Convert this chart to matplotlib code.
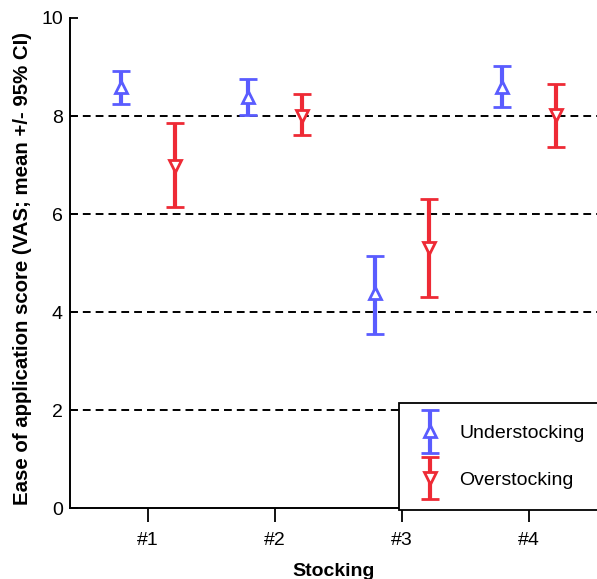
import matplotlib.pyplot as plt
from matplotlib.container import ErrorbarContainer
from matplotlib.legend_handler import HandlerErrorbar

plt.rcParams['font.family'] = ['Liberation Sans', 'DejaVu Sans']

stockings = ["#1", "#2", "#3", "#4"]
under_mean = [8.59, 8.39, 4.40, 8.60]
under_low = [8.25, 8.02, 3.56, 8.19]
under_high = [8.92, 8.76, 5.15, 9.02]
over_mean = [6.99, 8.00, 5.30, 8.02]
over_low = [6.15, 7.62, 4.30, 7.37]
over_high = [7.86, 8.45, 6.31, 8.66]

blue = "#5a5cff"
red = "#ee2a35"

fig = plt.figure(figsize=(5.97, 5.79), dpi=100)
ax = fig.add_axes([0.117, 0.122, 0.883, 0.847])

pos = range(1, len(stockings) + 1)
xu = [p - 0.21 for p in pos]
xo = [p + 0.21 for p in pos]

for y in [2, 4, 6, 8]:
    ax.axhline(y, color="black", linestyle=(0, (4, 2.6)), linewidth=1.4, zorder=0)

err_u = [[m - l for m, l in zip(under_mean, under_low)],
         [h - m for m, h in zip(under_mean, under_high)]]
err_o = [[m - l for m, l in zip(over_mean, over_low)],
         [h - m for m, h in zip(over_mean, over_high)]]

# capsize is half the cap length in matplotlib
style = dict(mfc="white", mew=2.0, ms=8, elinewidth=3, capsize=6.2, capthick=2.6)
eu = ax.errorbar(xu, under_mean, yerr=err_u, fmt="^", color=blue, ecolor=blue,
                 mec=blue, label="Understocking", **style)
eo = ax.errorbar(xo, over_mean, yerr=err_o, fmt="v", color=red, ecolor=red,
                 mec=red, label="Overstocking", **style)

ax.set_xlim(0.386, 4.535)
ax.set_ylim(0, 10)
ax.set_xticks(list(pos))
ax.set_xticklabels(stockings)
ax.set_yticks([0, 2, 4, 6, 8, 10])
ax.tick_params(axis="x", labelsize=14, width=1.3, length=10, direction="out", pad=7)
ax.tick_params(axis="y", labelsize=14, width=1.3, length=6, direction="in", pad=5)
ax.spines["top"].set_visible(False)
ax.spines["right"].set_visible(False)
ax.spines["left"].set_linewidth(1.4)
ax.spines["bottom"].set_linewidth(1.4)

ax.set_xlabel("Stocking", fontsize=14, fontweight="bold", labelpad=10)
ax.set_ylabel("Ease of application score (VAS; mean +/- 95% CI)", fontsize=14.7,
              fontweight="bold")
ax.yaxis.set_label_coords(-0.072, 0.49)

leg = ax.legend(handles=[eu, eo], loc="upper left", bbox_to_anchor=(0.624, 0.215),
                fontsize=14, frameon=True, fancybox=False, edgecolor="black",
                framealpha=1, numpoints=1, labelspacing=1.5, handlelength=1.0,
                handletextpad=1.0, borderpad=1.1, borderaxespad=0,
                handler_map={ErrorbarContainer: HandlerErrorbar(yerr_size=1.1)})
leg.get_frame().set_linewidth(1.3)

fig.savefig("out.png", dpi=100)
